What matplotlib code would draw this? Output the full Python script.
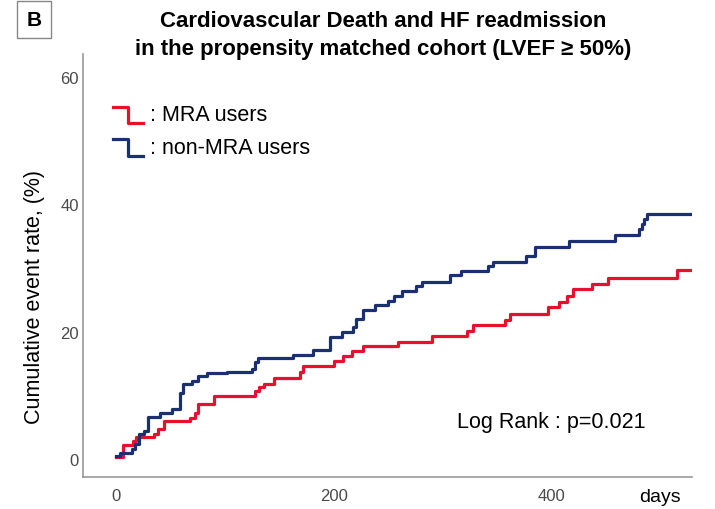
import matplotlib
matplotlib.use("Agg")
import matplotlib.pyplot as plt
from matplotlib.lines import Line2D

plt.rcParams['font.family'] = ['Liberation Sans', 'DejaVu Sans']

# step points (days, cumulative %)
mra_days = [0, 7, 16, 19, 35, 39, 44, 68, 73, 76, 90, 128, 132, 136, 145, 169, 172,
            200, 209, 217, 227, 259, 290, 322, 328, 357, 362, 397, 407, 414, 420,
            437, 452, 515, 528]
mra_rate = [0.3, 2.2, 2.9, 3.4, 4.0, 4.7, 5.9, 6.5, 7.2, 8.6, 9.9, 10.7, 11.3, 11.8,
            12.7, 13.6, 14.6, 15.4, 16.2, 17.0, 17.7, 18.4, 19.3, 20.1, 21.0, 21.9,
            22.8, 23.8, 24.7, 25.6, 26.7, 27.5, 28.5, 29.7, 29.7]

non_days = [0, 4, 15, 18, 21, 26, 30, 41, 52, 59, 62, 70, 76, 84, 102, 125, 128, 131,
            163, 181, 197, 208, 218, 221, 227, 238, 250, 255, 263, 276, 281, 307,
            317, 342, 346, 377, 385, 416, 458, 480, 483, 485, 488, 528]
non_rate = [0.5, 0.9, 1.6, 2.4, 3.9, 4.4, 6.6, 7.2, 7.8, 10.4, 11.8, 12.3, 13.0, 13.5,
            13.7, 14.1, 15.2, 15.9, 16.3, 17.1, 19.2, 19.9, 20.7, 22.0, 23.4, 24.2,
            24.8, 25.6, 26.4, 27.2, 27.8, 28.9, 29.6, 30.3, 31.0, 31.9, 33.3, 34.3,
            35.2, 36.1, 36.9, 37.7, 38.5, 38.5]

x_ticks = [0, 200, 400]
y_ticks = [0, 20, 40, 60]

red = '#e8112d'
blue = '#1b2f73'

fig = plt.figure(figsize=(7.15, 5.1), dpi=100)
ax = fig.add_axes([0.116, 0.063, 0.852, 0.829])

ax.step(mra_days, mra_rate, where='post', color=red, lw=2.3)
ax.step(non_days, non_rate, where='post', color=blue, lw=2.3)

ax.set_xlim(-30, 529)
ax.set_ylim(-2.8, 63.6)
ax.set_xticks(x_ticks)
ax.set_yticks(y_ticks)
ax.tick_params(length=0, labelsize=12, labelcolor='#4a4a4a')
ax.tick_params(axis='x', pad=8)
ax.tick_params(axis='y', pad=3)
for s in ['top', 'right']:
    ax.spines[s].set_visible(False)
for s in ['left', 'bottom']:
    ax.spines[s].set_color('#999999')
    ax.spines[s].set_linewidth(1.2)

ax.set_ylabel('Cumulative event rate, (%)', fontsize=15.5)
ax.yaxis.set_label_coords(-0.062, 0.428)

# legend drawn by hand with step glyphs
for yy, c, lab in [(0.856, red, ': MRA users'), (0.778, blue, ': non-MRA users')]:
    ax.add_line(Line2D([0.049, 0.074, 0.074, 0.098], [yy + 0.02, yy + 0.02, yy - 0.02, yy - 0.02],
                       transform=ax.transAxes, color=c, lw=2.3))
    ax.text(0.11, yy, lab, transform=ax.transAxes, fontsize=15.5, va='center')

ax.text(0.614, 0.132, 'Log Rank : p=0.021', transform=ax.transAxes, fontsize=15.5, va='center')
fig.text(0.923, 0.025, 'days', fontsize=14, ha='center', va='center')

fig.text(0.536, 0.958, 'Cardiovascular Death and HF readmission',
         ha='center', va='center', fontsize=16, fontweight='bold')
fig.text(0.536, 0.903, 'in the propensity matched cohort (LVEF \u2265 50%)',
         ha='center', va='center', fontsize=16, fontweight='bold')
fig.text(0.0475, 0.96, 'B', ha='center', va='center', fontsize=15, fontweight='bold',
         bbox=dict(boxstyle='square,pad=0.45', fc='white', ec='#888888', lw=1))

fig.savefig('out.png', dpi=100)
